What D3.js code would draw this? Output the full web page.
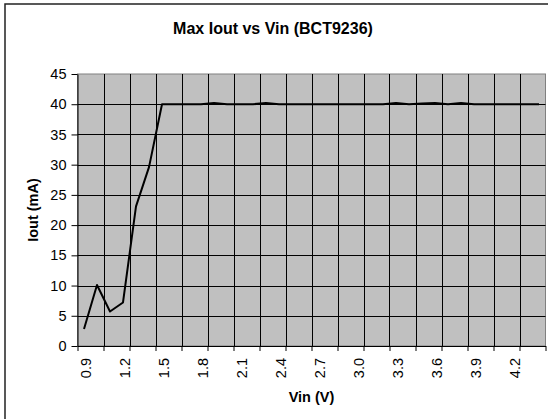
<!DOCTYPE html>
<html>
<head>
<meta charset="utf-8">
<script src="https://cdn.jsdelivr.net/npm/d3@7"></script>
<style>
  html, body { margin: 0; padding: 0; background: #fff; }
  svg { display: block; }
  text { font-family: "Liberation Sans", Arial, sans-serif; }
</style>
</head>
<body>
<script>
// Categories (Vin, V)
const vin = ["0.9","1.0","1.1","1.2","1.3","1.4","1.5","1.6","1.7","1.8",
             "1.9","2.0","2.1","2.2","2.3","2.4","2.5","2.6","2.7","2.8",
             "2.9","3.0","3.1","3.2","3.3","3.4","3.5","3.6","3.7","3.8",
             "3.9","4.0","4.1","4.2","4.3","4.4"];
// Max Iout (mA)
const iout = [2.8, 10.1, 5.7, 7.2, 23.1, 29.6, 40.0, 40.0, 40.0, 40.0,
              40.2, 40.0, 40.0, 40.0, 40.2, 40.0, 40.0, 40.0, 40.0, 40.0,
              40.0, 40.0, 40.0, 40.0, 40.2, 40.0, 40.1, 40.2, 40.0, 40.2,
              40.0, 40.0, 40.0, 40.0, 40.0, 40.0];
const xLabels = ["0.9","1.2","1.5","1.8","2.1","2.4","2.7","3.0","3.3","3.6","3.9","4.2"];
const yTicks = [0,5,10,15,20,25,30,35,40,45];

const W = 548, H = 419;
const pL = 77.5, pR = 545.5, pT = 74, pB = 346;
const FONT = '"Liberation Sans", Arial, sans-serif';

const svg = d3.select("body").append("svg").attr("width", W).attr("height", H);

// chart border
svg.append("rect").attr("x", 5).attr("y", 4).attr("width", W + 10).attr("height", H + 10)
  .attr("fill", "#fff").attr("stroke", "#222").attr("stroke-width", 1.5);

const x = d3.scaleBand().domain(vin).range([pL, pR]).padding(0);
const xi = d3.scaleLinear().domain([0, vin.length]).range([pL, pR]);
const y = d3.scaleLinear().domain([0, 45]).range([pB, pT]);

// plot area
svg.append("rect").attr("x", pL).attr("y", pT).attr("width", pR - pL).attr("height", pB - pT)
  .attr("fill", "#C0C0C0").attr("stroke", "#808080").attr("stroke-width", 1);

// gridlines
const gridIdx = d3.range(2, vin.length, 2);
svg.append("g").selectAll("line").data(gridIdx).join("line")
  .attr("x1", d => Math.round(xi(d)) + 0.5).attr("x2", d => Math.round(xi(d)) + 0.5)
  .attr("y1", pT).attr("y2", pB).attr("stroke", "#000").attr("stroke-width", 1);
svg.append("g").selectAll("line").data(yTicks.filter(v => v > 0 && v < 45)).join("line")
  .attr("x1", pL).attr("x2", pR)
  .attr("y1", d => Math.round(y(d)) + 0.5).attr("y2", d => Math.round(y(d)) + 0.5)
  .attr("stroke", "#000").attr("stroke-width", 1);

// Y axis
const yAxis = svg.append("g").attr("transform", `translate(${pL},0)`)
  .call(d3.axisLeft(y).tickValues(yTicks).tickSize(6).tickPadding(5).tickSizeOuter(0));
yAxis.select(".domain").attr("stroke", "#000");
yAxis.selectAll("text").attr("font-size", 14.5).attr("fill", "#000").style("font-family", FONT);

// X axis ticks (between categories)
const xTickAxis = svg.append("g").attr("transform", `translate(0,${pB})`)
  .call(d3.axisBottom(xi).tickValues(d3.range(0, vin.length + 1, 2)).tickSize(5).tickSizeOuter(0).tickFormat(""));
xTickAxis.select(".domain").attr("stroke", "#000");

// X labels
const xLabelAxis = svg.append("g").attr("transform", `translate(0,${pB})`)
  .call(d3.axisBottom(x).tickValues(xLabels).tickSize(0));
xLabelAxis.select(".domain").remove();
xLabelAxis.selectAll("text")
  .attr("transform", "rotate(-90)").attr("x", -12).attr("y", 0).attr("dy", "0.45em")
  .attr("text-anchor", "end").attr("font-size", 14.5).attr("fill", "#000").style("font-family", FONT);

// line
const line = d3.line().x((d, i) => x(vin[i]) + x.bandwidth() / 2).y(d => y(d));
svg.append("path").datum(iout).attr("d", line)
  .attr("fill", "none").attr("stroke", "#000").attr("stroke-width", 2).attr("stroke-linejoin", "round");

// titles
svg.append("text").attr("x", 273).attr("y", 34).attr("text-anchor", "middle")
  .attr("font-size", 16).attr("font-weight", "bold").text("Max Iout vs Vin (BCT9236)");
svg.append("text").attr("x", (pL + pR) / 2).attr("y", 402).attr("text-anchor", "middle")
  .attr("font-size", 14.5).attr("font-weight", "bold").text("Vin (V)");
svg.append("text").attr("transform", `translate(38,${(pT + pB) / 2}) rotate(-90)`)
  .attr("text-anchor", "middle").attr("font-size", 14.5).attr("font-weight", "bold").text("Iout (mA)");
</script>
</body>
</html>
